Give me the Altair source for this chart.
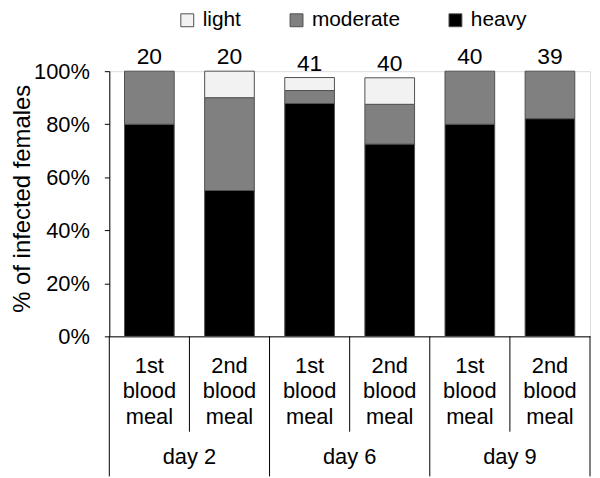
import altair as alt
import pandas as pd

# ---- data ----
days = ["day 2", "day 6", "day 9"]
meals = ["1st blood meal", "2nd blood meal"]
heavy = [80.0, 55.0, 87.8, 72.5, 80.0, 82.1]
moderate = [20.0, 35.0, 4.9, 15.0, 20.0, 17.9]
light = [0.0, 10.0, 4.9, 10.0, 0.0, 0.0]
n_females = [20, 20, 41, 40, 40, 39]
levels = ["light", "moderate", "heavy"]
level_colors = ["#f2f2f2", "#808080", "#000000"]
y_ticks = [0, 20, 40, 60, 80, 100]

FONT = "Liberation Sans"
W, H = 484, 267
PAD_L, PAD_T, PAD_R, PAD_B = 102, 62, 2, 141

bars = [f"{d}|{m}" for d in days for m in meals]

rows = []
for i, b in enumerate(bars):
    for lvl, vals, o in [("heavy", heavy, 0), ("moderate", moderate, 1), ("light", light, 2)]:
        if vals[i] > 0:
            rows.append({"bar": b, "level": lvl, "pct": vals[i], "ord": o})
df = pd.DataFrame(rows)

tot = pd.DataFrame({
    "bar": bars,
    "total": [heavy[i] + moderate[i] + light[i] for i in range(len(bars))],
    "n": [str(v) for v in n_females],
})

# separators: band boundaries 0..6 (even = group borders, odd = inner borders)
sep = pd.DataFrame({"pos": list(range(len(bars) + 1))})
sep_group = sep[sep["pos"] % 2 == 0]
sep_inner = sep[sep["pos"] % 2 == 1]
day_df = pd.DataFrame({"pos": [2 * i + 1 for i in range(len(days))], "day": days})

x_band = alt.X(
    "bar:N",
    sort=bars,
    scale=alt.Scale(paddingInner=0.38, paddingOuter=0.19),
    axis=alt.Axis(
        title=None,
        labelExpr="split(split(datum.label, '|')[1], ' ')",
        labelFont=FONT,
        labelFontSize=22,
        labelLineHeight=26,
        labelColor="black",
        labelAngle=0,
        labelPadding=19,
        ticks=False,
        tickSize=0,
        domainColor="black",
        domainWidth=1,
        grid=False,
    ),
)

y_enc = alt.Y(
    "pct:Q",
    stack="zero",
    scale=alt.Scale(domain=[0, 100], nice=False),
    axis=alt.Axis(
        values=y_ticks,
        labelExpr="datum.value + '%'",
        title="% of  infected females",
        titleFont=FONT,
        titleFontSize=24,
        titleFontWeight="normal",
        titleColor="black",
        titleAngle=-90,
        titleX=-99,
        titleY=128,
        titleAlign="center",
        titleBaseline="top",
        labelFont=FONT,
        labelFontSize=22,
        labelColor="black",
        labelPadding=15,
        tickSize=5,
        tickColor="black",
        domainColor="black",
        grid=False,
    ),
)

bar_layer = alt.Chart(df).mark_bar(stroke="#505050", strokeWidth=1).encode(
    x=x_band,
    y=y_enc,
    color=alt.Color(
        "level:N",
        scale=alt.Scale(domain=levels, range=level_colors),
        legend=alt.Legend(
            title=None,
            orient="none",
            direction="horizontal",
            legendX=68,
            legendY=-62,
            padding=0,
            symbolType="square",
            symbolSize=169,
            symbolStrokeColor="#505050",
            symbolStrokeWidth=1,
            labelFont=FONT,
            labelFontSize=21,
            labelColor="black",
            labelOffset=5,
            columnPadding=45,
        ),
    ),
    order=alt.Order("ord:Q"),
)

count_layer = alt.Chart(tot).mark_text(
    font=FONT, fontSize=23, color="black", baseline="alphabetic", dy=-7
).encode(
    x=alt.X("bar:N", sort=bars, scale=alt.Scale(paddingInner=0.38, paddingOuter=0.19), axis=None),
    y=alt.Y("total:Q"),
    text="n:N",
)

x_q = alt.X("pos:Q", scale=alt.Scale(domain=[0, len(bars)], nice=False, zero=False), axis=None)

group_rules = alt.Chart(sep_group).mark_rule(color="black", strokeWidth=1).encode(
    x=x_q, y=alt.value(H), y2=alt.value(H + PAD_B)
)
inner_rules = alt.Chart(sep_inner).mark_rule(color="black", strokeWidth=1).encode(
    x=x_q, y=alt.value(H), y2=alt.value(H + 96)
)
day_layer = alt.Chart(day_df).mark_text(
    font=FONT, fontSize=22, color="black", baseline="alphabetic"
).encode(x=x_q, y=alt.value(H + 129), text="day:N")

chart = (
    alt.layer(bar_layer, count_layer, group_rules, inner_rules, day_layer)
    .resolve_scale(x="independent")
    .properties(
        width=W,
        height=H,
        autosize=alt.AutoSizeParams(type="none"),
        padding={"left": PAD_L, "top": PAD_T, "right": PAD_R, "bottom": PAD_B},
    )
    .configure_view(stroke=None)
    .configure(background="white")
)

chart.save("out.html", embed_options={"renderer": "svg", "actions": False})
